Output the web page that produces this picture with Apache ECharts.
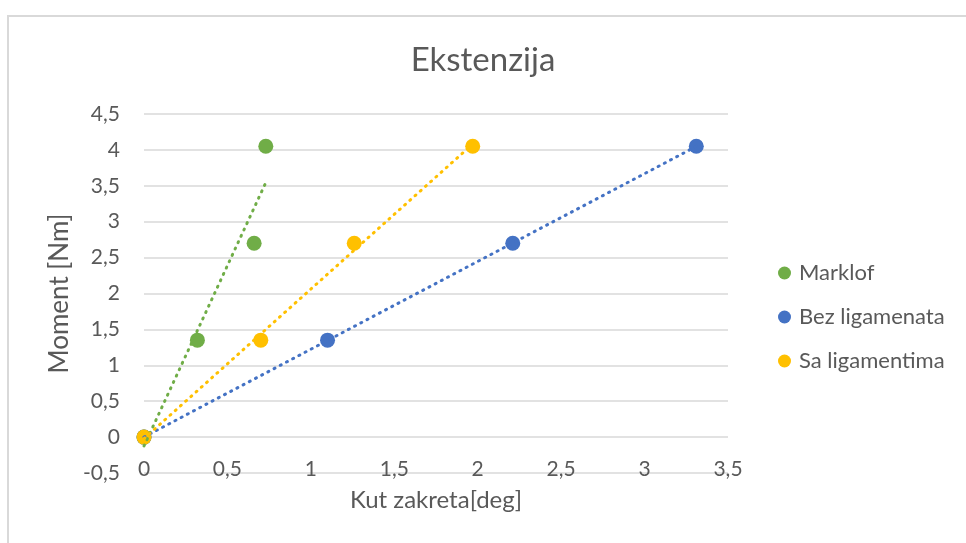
<!DOCTYPE html>
<html>
<head>
<meta charset="utf-8">
<script src="https://cdn.jsdelivr.net/npm/echarts@6/dist/echarts.min.js"></script>
<style>
  html, body { margin: 0; padding: 0; background: #fff; }
  #chart { width: 966px; height: 543px; }
</style>
</head>
<body>
<div id="chart"></div>
<script>
// Moment vs. rotation angle for three measurement sets
const seriesNames = ['Marklof', 'Bez ligamenata', 'Sa ligamentima'];
const seriesColors = ['#70ad47', '#4472c4', '#ffc000'];

const momentNm = [0, 1.35, 2.7, 4.05];
const angleMarklof = [0, 0.32, 0.66, 0.73];
const angleBezLigamenata = [0, 1.10, 2.21, 3.31];
const angleSaLigamentima = [0, 0.70, 1.26, 1.97];

const xTicks = ['0', '0,5', '1', '1,5', '2', '2,5', '3', '3,5'];
const yTicks = ['-0,5', '0', '0,5', '1', '1,5', '2', '2,5', '3', '3,5', '4', '4,5'];

const angles = [angleMarklof, angleBezLigamenata, angleSaLigamentima];

// Least-squares linear trend over a series, spanning its x range
function linearTrend(xs, ys) {
  const n = xs.length;
  const mx = xs.reduce((a, b) => a + b, 0) / n;
  const my = ys.reduce((a, b) => a + b, 0) / n;
  let sxy = 0, sxx = 0;
  for (let i = 0; i < n; i++) {
    sxy += (xs[i] - mx) * (ys[i] - my);
    sxx += (xs[i] - mx) * (xs[i] - mx);
  }
  const k = sxy / sxx;
  const b = my - k * mx;
  const x0 = Math.min(...xs), x1 = Math.max(...xs);
  return [[x0, k * x0 + b], [x1, k * x1 + b]];
}

const textColor = '#595959';
const fontFamily = 'Lato, "Open Sans", sans-serif';

const series = [];
seriesNames.forEach((name, i) => {
  series.push({
    name: name,
    type: 'scatter',
    symbol: 'circle',
    symbolSize: 15,
    itemStyle: { color: seriesColors[i], opacity: 1 },
    data: angles[i].map((x, j) => [x, momentNm[j]]),
    z: 2
  });
});
seriesNames.forEach((name, i) => {
  series.push({
    name: name + ' trend',
    type: 'line',
    symbol: 'none',
    silent: true,
    lineStyle: { color: seriesColors[i], width: 3, type: [1, 6], cap: 'round' },
    data: linearTrend(angles[i], momentNm),
    z: 3
  });
});

const chart = echarts.init(document.getElementById('chart'), null, { renderer: 'canvas' });
chart.setOption({
  animation: false,
  backgroundColor: '#fff',
  textStyle: { fontFamily: fontFamily },
  graphic: [{
    type: 'rect',
    shape: { x: 8, y: 16, width: 1000, height: 600 },
    style: { fill: 'none', stroke: '#d9d9d9', lineWidth: 2 },
    silent: true
  }],
  title: {
    text: 'Ekstenzija',
    left: 'center',
    top: 39,
    textStyle: { color: textColor, fontSize: 33, fontWeight: 'normal', fontFamily: fontFamily }
  },
  legend: {
    data: seriesNames,
    orient: 'vertical',
    left: 773,
    top: 257,
    itemWidth: 13,
    itemHeight: 13,
    itemGap: 22,
    icon: 'circle',
    textStyle: { color: textColor, fontSize: 22, fontFamily: fontFamily, padding: [0, 0, 0, 3] }
  },
  grid: { left: 144, right: 238, top: 114, bottom: 70, containLabel: false },
  xAxis: {
    type: 'value',
    min: 0,
    max: 3.5,
    interval: 0.5,
    name: 'Kut zakreta[deg]',
    nameLocation: 'middle',
    nameGap: 15,
    nameTextStyle: { color: textColor, fontSize: 24, fontFamily: fontFamily },
    axisLine: { show: false },
    axisTick: { show: false },
    splitLine: { show: false },
    axisLabel: {
      color: textColor,
      fontSize: 21,
      margin: -14,
      formatter: (v) => xTicks[Math.round(v / 0.5)]
    }
  },
  yAxis: {
    type: 'value',
    min: -0.5,
    max: 4.5,
    interval: 0.5,
    name: 'Moment [Nm]',
    nameLocation: 'middle',
    nameGap: 70,
    nameTextStyle: { color: textColor, fontSize: 26, fontFamily: fontFamily },
    axisLine: { show: false },
    axisTick: { show: false },
    splitLine: { show: true, lineStyle: { color: '#d9d9d9', width: 1.5 } },
    axisLabel: {
      color: textColor,
      fontSize: 21,
      margin: 24,
      formatter: (v) => yTicks[Math.round((v + 0.5) / 0.5)]
    }
  },
  series: series
});
</script>
</body>
</html>
